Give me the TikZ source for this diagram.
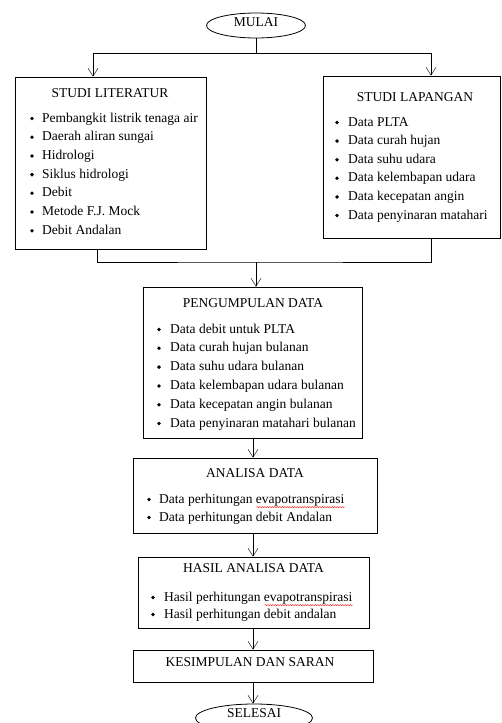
\documentclass[tikz,border=0pt]{standalone}
\usepackage{fontspec}
\setmainfont{Liberation Serif}
\usetikzlibrary{positioning, arrows.meta, shapes.geometric, decorations.pathmorphing}

\begin{document}
\begin{tikzpicture}[x=1pt, y=-1pt, font=\fontsize{13.5}{15}\selectfont,
    >={Straight Barb[length=8pt, width=10pt]},
    box/.style={draw, line width=0.8pt, inner sep=0pt},
    term/.style={draw, ellipse, line width=0.8pt, inner sep=0pt},
    title/.style={anchor=base, inner sep=0pt},
    item/.style={anchor=base west, inner sep=0pt},
    dot/.style={circle, fill, inner sep=0pt, minimum size=3.8pt},
    wavy/.style={red, line width=0.4pt, decorate, decoration={snake, amplitude=0.6pt, segment length=2.5pt}}]
  \useasboundingbox (0,0) rectangle (502,723);
  % Start
  \node[term, minimum width=99, minimum height=25] (mulai) at (256,25.5) {};
  \node[title] (mulaiT) at (256,26) {MULAI};
  \coordinate (split) at (256,53);
  % Studi literatur
  \node[box, minimum width=191, minimum height=172] (lit) at (110.5,163) {};
  \node[title] (litT) at (110,97.5) {STUDI LITERATUR};
  \foreach \t [count=\i from 0] in {Pembangkit listrik tenaga air, Daerah aliran sungai,
      Hidrologi, Siklus hidrologi, Debit, Metode F.J. Mock, Debit Andalan}{
    \node[dot] (lb\i) at (32, 118.5+\i*18.7) {};
    \node[item] (l\i) at (42, 122+\i*18.7) {\t};
  }
  % Studi lapangan
  \node[box, minimum width=177, minimum height=162] (lap) at (411.5,157) {};
  \node[title] (lapT) at (415,101.5) {STUDI LAPANGAN};
  \foreach \t [count=\i from 0] in {Data PLTA, Data curah hujan, Data suhu udara,
      Data kelembapan udara, Data kecepatan angin, Data penyinaran matahari}{
    \node[dot] (pb\i) at (337, 122.5+\i*18.6) {};
    \node[item] (p\i) at (348, 126+\i*18.6) {\t};
  }
  \draw[->] (mulai) -- (split) -| ([xshift=-17.5pt]lit.north);
  \draw[->] (split) -| ([xshift=19.5pt]lap.north);
  \coordinate (join) at (256,262);
  \draw ([xshift=-13.5pt]lit.south) |- (join) -| ([xshift=19.5pt]lap.south);
  % Pengumpulan data
  \node[box, minimum width=219, minimum height=151] (kumpul) at (253,362.5) {};
  \node[title] (kumpulT) at (253,307.5) {PENGUMPULAN DATA};
  \foreach \t [count=\i from 0] in {Data debit untuk PLTA, Data curah hujan bulanan,
      Data suhu udara bulanan, Data kelembapan udara bulanan,
      Data kecepatan angin bulanan, Data penyinaran matahari bulanan}{
    \node[dot] (kb\i) at (159, 329.5+\i*18.8) {};
    \node[item] (k\i) at (170, 333+\i*18.8) {\t};
  }
  \draw[->] (join) -- (join |- kumpul.north);
  % Analisa data
  \node[box, minimum width=244, minimum height=75] (analisa) at (255,495.5) {};
  \node[title] (analisaT) at (255,477.5) {ANALISA DATA};
  \foreach \t [count=\i from 0] in {Data perhitungan evapotranspirasi,
      Data perhitungan debit Andalan}{
    \node[dot] (ab\i) at (149, 499.5+\i*18) {};
    \node[item] (a\i) at (159, 503+\i*18) {\t};
  }
  \draw[wavy] ([xshift=-88pt, yshift=-1pt]a0.south east) -- ([yshift=-1pt]a0.south east);
  \draw[->] (kumpul.south) -- (kumpul.south |- analisa.north);
  % Hasil analisa data
  \node[box, minimum width=231, minimum height=71] (hasil) at (253.5,592.5) {};
  \node[title] (hasilT) at (253.5,572.5) {HASIL ANALISA DATA};
  \foreach \t [count=\i from 0] in {Hasil perhitungan evapotranspirasi,
      Hasil perhitungan debit andalan}{
    \node[dot] (hb\i) at (153, 597.5+\i*17) {};
    \node[item] (h\i) at (164, 601+\i*17) {\t};
  }
  \draw[wavy] ([xshift=-88pt, yshift=-1pt]h0.south east) -- ([yshift=-1pt]h0.south east);
  \draw[->] (analisa.south -| kumpul.south) -- (kumpul.south |- hasil.north);
  % Kesimpulan dan saran
  \node[box, minimum width=240, minimum height=32] (saran) at (253,666) {};
  \node[title] (saranT) at (250,666.5) {KESIMPULAN DAN SARAN};
  \draw[->] (hasil.south -| kumpul.south) -- (kumpul.south |- saran.north);
  % End
  \node[term, minimum width=117, minimum height=28] (selesai) at (254,718) {};
  \node[title] (selesaiT) at (254,717.5) {SELESAI};
  \draw[->] (saran.south -| kumpul.south) -- (kumpul.south |- selesai.north);
\end{tikzpicture}
\end{document}
